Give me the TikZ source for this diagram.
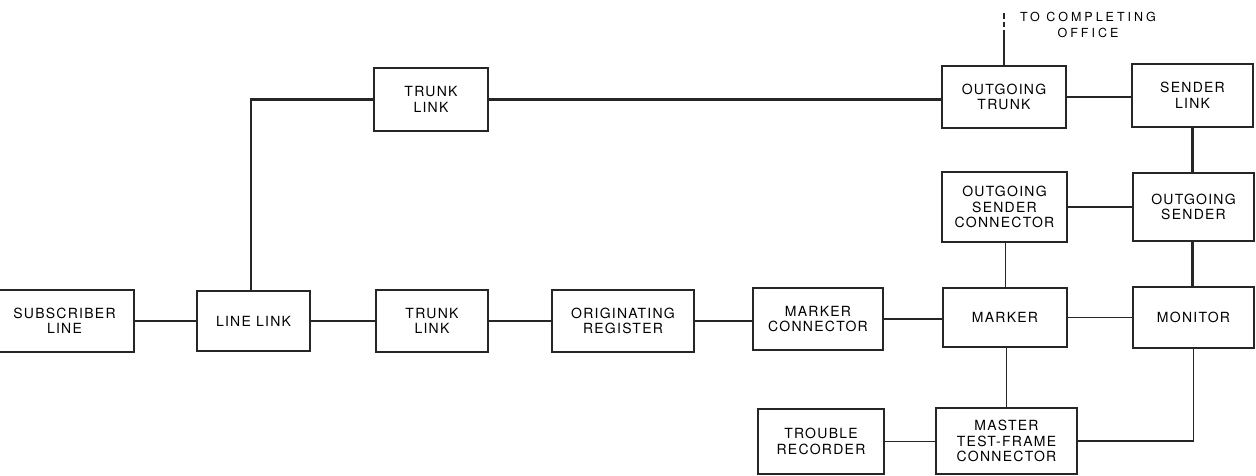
\documentclass[tikz,border=0pt]{standalone}
\usepackage{fontspec}
\setmainfont{TeX Gyre Heros}[LetterSpace=9]
\newfontfamily\widefont{TeX Gyre Heros}[LetterSpace=24]
\begin{document}
\begin{tikzpicture}[x=1pt,y=-1pt,
  blk/.style={draw=black!85, line width=1.1pt, inner sep=0pt, outer sep=0pt, align=center,
    font=\fontsize{14}{15.5}\selectfont},
  thickline/.style={draw=black!85, line width=2.6pt},
  thinline/.style={draw=black!85, line width=1.2pt},
  medline/.style={draw=black!85, line width=1.8pt},
  lbl/.style={inner sep=0pt, align=center, font=\widefont\fontsize{12.5}{16}\selectfont}]
\useasboundingbox (0,0) rectangle (1256,475);
% boxes
\node[blk, minimum width=139, minimum height=62] (sub) at (64.5,321) {SUBSCRIBER\\LINE};
\node[blk, minimum width=113, minimum height=60] (linelink) at (253.5,321) {LINE LINK};
\node[blk, minimum width=112, minimum height=62] (trunkB) at (432,321) {TRUNK\\LINK};
\node[blk, minimum width=142, minimum height=62] (origreg) at (623,321) {ORIGINATING\\REGISTER};
\node[blk, minimum width=130, minimum height=62] (markconn) at (818,319) {MARKER\\CONNECTOR};
\node[blk, minimum width=124, minimum height=59] (marker) at (1005,317.5) {MARKER};
\node[blk, minimum width=121, minimum height=61] (monitor) at (1193.5,317.5) {MONITOR};
\node[blk, minimum width=114, minimum height=63] (trunkT) at (431,99.5) {TRUNK\\LINK};
\node[blk, minimum width=124, minimum height=62] (outtrunk) at (1004,97) {OUTGOING\\TRUNK};
\node[blk, minimum width=121, minimum height=63] (senderlink) at (1192.5,95.5) {SENDER\\LINK};
\node[blk, minimum width=121, minimum height=68] (outsender) at (1193.5,207) {OUTGOING\\SENDER};
\node[blk, minimum width=125, minimum height=70] (osc) at (1004.5,207) {OUTGOING\\SENDER\\CONNECTOR};
\node[blk, minimum width=126, minimum height=65] (trouble) at (821,441.5) {TROUBLE\\RECORDER};
\node[blk, minimum width=141, minimum height=66] (mtfc) at (1006.5,441) {MASTER\\TEST-FRAME\\CONNECTOR};
\node[lbl] (tco) at (1088,25) {TO COMPLETING\\OFFICE};
% connectors
\coordinate (solidend) at (1004,30);
\coordinate (dashstart) at (1004,27);
\coordinate (dashend) at (1004,13);
\draw[thickline] (sub.east) -- (linelink.west);
\draw[thickline] ([xshift=-2.5pt]linelink.north) |- (trunkT.west);
\draw[thickline] (trunkT.east) -- (trunkT.east -| outtrunk.west);
\draw[thickline] (outtrunk.east) -- (outtrunk.east -| senderlink.west);
\draw[thickline] (senderlink.south) -- (senderlink.south |- outsender.north);
\draw[thickline] ([xshift=-1pt]outsender.south) -- ([xshift=-1pt]outsender.south |- monitor.north);
\draw[thickline] (outtrunk.north) -- (solidend);
\draw[thickline, dash pattern=on 5pt off 3pt on 6pt off 20pt] (dashstart) -- (dashend);
\draw[thinline] (osc.east) -- (outsender.west);
\draw[thinline] ([xshift=1pt]osc.south) -- ([xshift=1pt]osc.south |- marker.north);
\draw[thinline] (linelink.east) -- (trunkB.west);
\draw[thinline] (trunkB.east) -- (origreg.west);
\draw[medline] (origreg.east) -- (origreg.east -| markconn.west);
\draw[thinline] (markconn.east) -- (markconn.east -| marker.west);
\draw[thinline] (marker.east) -- (monitor.west);
\draw[thinline] ([xshift=1.5pt]marker.south) -- ([xshift=1.5pt]marker.south |- mtfc.north);
\draw[thinline] (trouble.east) -- (trouble.east -| mtfc.west);
\draw[thinline] (monitor.south) |- (mtfc.east);
\end{tikzpicture}
\end{document}
